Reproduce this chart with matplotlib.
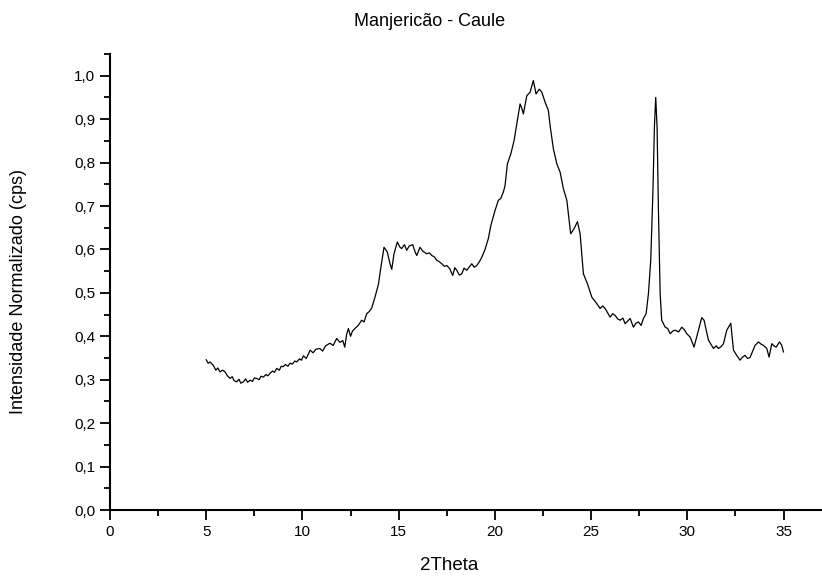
import matplotlib
matplotlib.use('Agg')
import matplotlib.pyplot as plt
from matplotlib.ticker import MultipleLocator, FuncFormatter

plt.rcParams['font.family'] = ['Liberation Sans', 'DejaVu Sans']

# 2Theta vs normalised intensity
theta = [5.00, 5.10, 5.20, 5.37, 5.50, 5.60, 5.72, 5.85, 5.98, 6.10, 6.24, 6.35,
         6.45, 6.58, 6.70, 6.80, 6.93, 7.05, 7.15, 7.28, 7.40, 7.50, 7.62, 7.75,
         7.85, 7.97, 8.10, 8.20, 8.32, 8.45, 8.55, 8.66, 8.80, 8.90, 9.00, 9.12,
         9.25, 9.35, 9.48, 9.60, 9.70, 9.85, 9.95, 10.05, 10.20, 10.40, 10.55,
         10.70, 10.90, 11.05, 11.20, 11.43, 11.60, 11.78, 11.95, 12.10, 12.20,
         12.30, 12.39, 12.50, 12.60, 12.73, 12.90, 13.08, 13.20, 13.34, 13.47,
         13.60, 13.77, 13.95, 14.08, 14.24, 14.41, 14.55, 14.64, 14.76, 14.93,
         15.07, 15.16, 15.30, 15.42, 15.55, 15.73, 15.85, 15.94, 16.11, 16.25,
         16.46, 16.60, 16.72, 16.85, 16.98, 17.10, 17.24, 17.38, 17.50, 17.65,
         17.81, 17.92, 18.02, 18.15, 18.28, 18.40, 18.54, 18.68, 18.80, 18.93,
         19.06, 19.20, 19.32, 19.49, 19.66, 19.79, 20.01, 20.18, 20.30, 20.44,
         20.53, 20.65, 20.83, 21.00, 21.14, 21.31, 21.40, 21.48, 21.66, 21.83,
         22.00, 22.14, 22.31, 22.44, 22.61, 22.78, 22.87, 23.04, 23.22, 23.39,
         23.56, 23.74, 23.94, 24.12, 24.29, 24.43, 24.60, 24.81, 25.04, 25.30,
         25.47, 25.60, 25.73, 25.85, 25.99, 26.12, 26.25, 26.38, 26.51, 26.65,
         26.77, 26.90, 27.03, 27.20, 27.33, 27.46, 27.60, 27.72, 27.86, 27.98,
         28.10, 28.21, 28.29, 28.36, 28.43, 28.50, 28.59, 28.67, 28.85, 28.98,
         29.11, 29.24, 29.37, 29.55, 29.71, 29.85, 29.97, 30.15, 30.35, 30.53,
         30.75, 30.87, 31.10, 31.25, 31.36, 31.50, 31.62, 31.75, 31.88, 32.05,
         32.26, 32.40, 32.57, 32.74, 32.87, 33.00, 33.13, 33.26, 33.40, 33.52,
         33.70, 33.83, 33.96, 34.13, 34.25, 34.39, 34.50, 34.62, 34.79, 34.90,
         35.00]
intensity = [0.346, 0.338, 0.341, 0.333, 0.322, 0.327, 0.318, 0.322, 0.318, 0.309,
             0.303, 0.307, 0.298, 0.295, 0.301, 0.292, 0.295, 0.302, 0.294, 0.299,
             0.296, 0.304, 0.303, 0.300, 0.308, 0.306, 0.312, 0.309, 0.315, 0.320,
             0.317, 0.326, 0.322, 0.331, 0.330, 0.335, 0.331, 0.338, 0.336, 0.343,
             0.341, 0.348, 0.345, 0.355, 0.349, 0.368, 0.362, 0.370, 0.372, 0.366,
             0.378, 0.384, 0.379, 0.395, 0.386, 0.390, 0.375, 0.405, 0.418, 0.400,
             0.412, 0.418, 0.425, 0.437, 0.433, 0.452, 0.457, 0.465, 0.490, 0.520,
             0.560, 0.605, 0.594, 0.567, 0.554, 0.590, 0.617, 0.605, 0.602, 0.611,
             0.598, 0.608, 0.611, 0.595, 0.586, 0.605, 0.596, 0.590, 0.592, 0.586,
             0.583, 0.575, 0.572, 0.567, 0.561, 0.563, 0.556, 0.540, 0.558, 0.552,
             0.541, 0.544, 0.557, 0.552, 0.560, 0.567, 0.559, 0.563, 0.572, 0.582,
             0.600, 0.625, 0.655, 0.690, 0.713, 0.717, 0.732, 0.747, 0.797, 0.820,
             0.851, 0.889, 0.935, 0.925, 0.912, 0.954, 0.962, 0.989, 0.958, 0.969,
             0.962, 0.939, 0.920, 0.885, 0.832, 0.797, 0.778, 0.740, 0.713, 0.636,
             0.648, 0.664, 0.636, 0.544, 0.521, 0.490, 0.475, 0.464, 0.470, 0.464,
             0.455, 0.444, 0.452, 0.448, 0.440, 0.437, 0.442, 0.429, 0.435, 0.441,
             0.421, 0.430, 0.433, 0.425, 0.441, 0.452, 0.498, 0.575, 0.728, 0.881,
             0.950, 0.881, 0.690, 0.498, 0.437, 0.421, 0.418, 0.406, 0.412, 0.414,
             0.410, 0.421, 0.415, 0.406, 0.398, 0.375, 0.406, 0.443, 0.437, 0.391,
             0.380, 0.372, 0.378, 0.372, 0.376, 0.383, 0.414, 0.430, 0.368, 0.356,
             0.345, 0.352, 0.356, 0.349, 0.351, 0.366, 0.379, 0.387, 0.382, 0.379,
             0.372, 0.352, 0.383, 0.378, 0.375, 0.387, 0.380, 0.364]

x_ticks = [0, 5, 10, 15, 20, 25, 30, 35]
y_ticks = [0.0, 0.1, 0.2, 0.3, 0.4, 0.5, 0.6, 0.7, 0.8, 0.9, 1.0]

fig = plt.figure(figsize=(8.22, 5.76), dpi=100)
ax = fig.add_axes([110/822, 66/576, 712/822, 456/576])

ax.plot(theta, intensity, color='black', lw=0.9)

ax.set_xlim(0, 37)
ax.set_ylim(0, 1.05)
ax.set_xticks(x_ticks)
ax.set_yticks(y_ticks)
ax.xaxis.set_minor_locator(MultipleLocator(2.5))
ax.yaxis.set_minor_locator(MultipleLocator(0.05))
ax.yaxis.set_major_formatter(FuncFormatter(lambda v, p: f'{v:.1f}'.replace('.', ',')))

for s in ['top', 'right']:
    ax.spines[s].set_visible(False)
for s in ['left', 'bottom']:
    ax.spines[s].set_linewidth(1.5)

ax.tick_params(which='major', direction='out', length=7, width=1.3, labelsize=11)
ax.tick_params(which='minor', direction='out', length=4, width=1.3)

fig.text(430/822, 1 - 22/576, 'Manjericão - Caule', ha='center', va='center', fontsize=13)
fig.text(449/822, 1 - 566/576, '2Theta', ha='center', va='center', fontsize=13.5)
fig.text(19/822, 1 - 291/576, 'Intensidade Normalizado (cps)', ha='center', va='center',
         rotation=90, fontsize=13)

fig.savefig('out.png', dpi=100)
